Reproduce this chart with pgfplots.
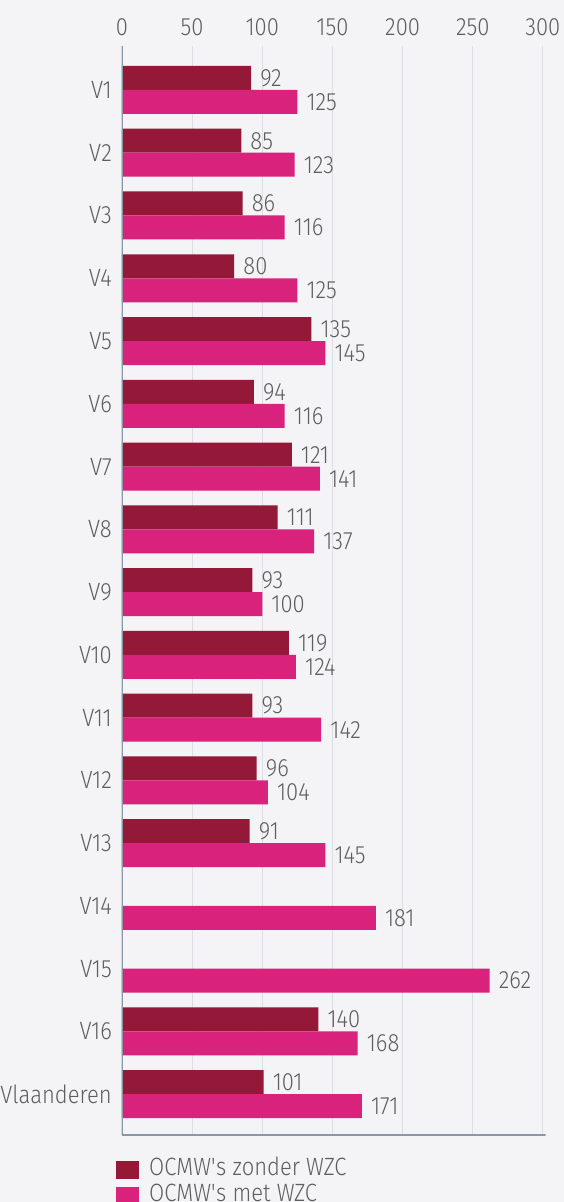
\documentclass[border=0pt]{standalone}
\usepackage{fontspec}
\setmainfont{Fira Sans}[UprightFont=* Light, FakeStretch=0.88]
\usepackage{pgfplots}
\pgfplotsset{compat=1.18}
\definecolor{bg}{HTML}{F4F4F7}
\definecolor{maroon}{HTML}{941838}
\definecolor{magenta}{HTML}{D8227C}
\definecolor{axisc}{HTML}{8A98A4}
\definecolor{gridc}{HTML}{DCDEE4}
\definecolor{txt}{HTML}{5E5E5E}
\newcommand{\cf}{\fontsize{25}{28}\selectfont}
\begin{document}
\begin{tikzpicture}
\fill[bg] (-122pt,-67pt) rectangle (442pt,1135pt);
\useasboundingbox (-122pt,-67pt) rectangle (442pt,1135pt);
\begin{axis}[
  at={(0pt,0pt)}, anchor=south west,
  scale only axis, width=423.7pt, height=1089pt,
  xbar, bar width=24pt,
  xmin=0, xmax=302,
  ymin=-0.70, ymax=16.65,
  y dir=reverse,
  axis line style={draw=none},
  xtick={0,50,...,300},
  xticklabel pos=upper,
  major tick length=0pt,
  xmajorgrids, grid style={gridc, line width=1pt},
  ytick={0,...,16},
  yticklabels={V1,V2,V3,V4,V5,V6,V7,V8,V9,V10,V11,V12,V13,V14,V15,V16,Vlaanderen},
  tick label style={font=\cf, text=txt},
  xticklabel style={anchor=base, inner sep=0pt, yshift=11pt},
  yticklabel style={anchor=east, inner sep=0pt, xshift=-10pt},
  /pgf/number format/assume math mode=true,
  nodes near coords,
  every node near coord/.append style={font=\cf, text=txt, anchor=west, inner sep=0pt, xshift=9pt},
  legend style={at={(0,0)}, anchor=north west, xshift=-6pt, yshift=-26pt, draw=none, fill=none,
    font=\cf, text=txt, row sep=0pt, inner sep=0pt,
    nodes={inner sep=0pt, text height=13pt, text depth=11pt, anchor=base west}},
  legend cell align=left,
  legend image code/.code={\fill[#1] (0pt,-3pt) rectangle (23pt,14.5pt); \path (33pt,0pt);},
]
\addplot[fill=maroon, draw=none, bar shift=12pt] coordinates {
(92,0) (85,1) (86,2) (80,3) (135,4) (94,5) (121,6) (111,7) (93,8) (119,9) (93,10) (96,11) (91,12) (140,15) (101,16)};
\addplot[fill=magenta, draw=none, bar shift=-12pt] coordinates {
(125,0) (123,1) (116,2) (125,3) (145,4) (116,5) (141,6) (137,7) (100,8) (124,9) (142,10) (104,11) (145,12) (181,13) (262,14) (168,15) (171,16)};
\legend{OCMW\textquotesingle s zonder WZC, OCMW\textquotesingle s met WZC}
\draw[axisc, line width=2pt] (rel axis cs:0,0) -- (rel axis cs:0,1);
\draw[axisc, line width=2pt] (rel axis cs:0,0) -- (rel axis cs:1,0);
\end{axis}
\end{tikzpicture}
\end{document}
